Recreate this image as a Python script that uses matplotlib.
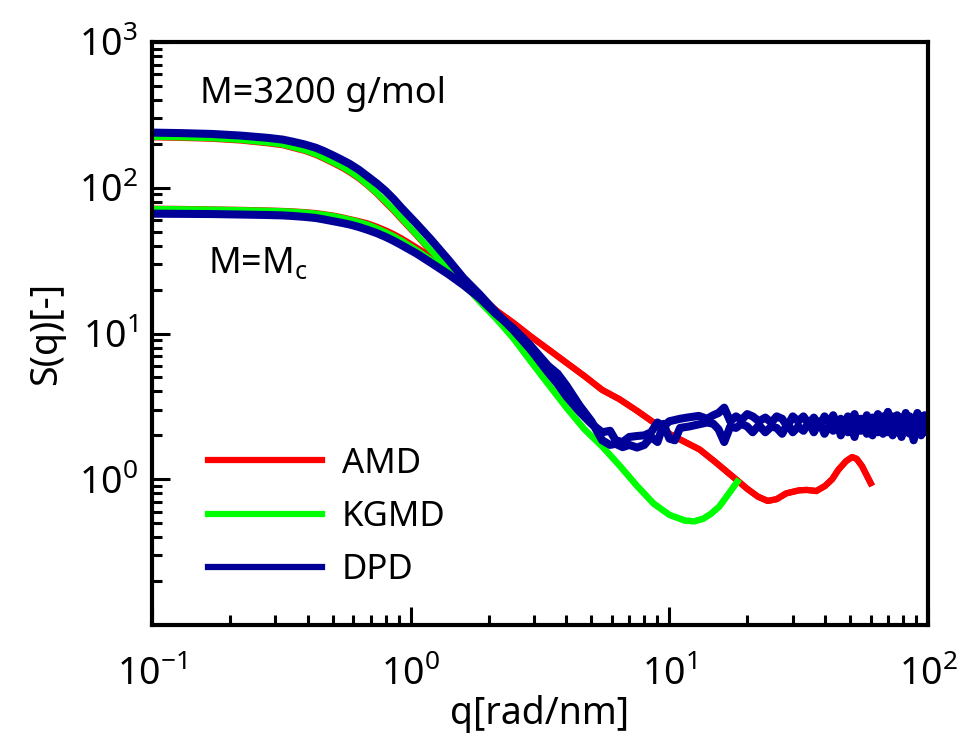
import matplotlib
matplotlib.use("Agg")
import matplotlib.pyplot as plt
from matplotlib.lines import Line2D
from matplotlib.ticker import FixedLocator, LogLocator

plt.rcParams['font.family'] = ['Noto Sans', 'DejaVu Sans']
plt.rcParams['mathtext.fontset'] = 'custom'
plt.rcParams['mathtext.rm'] = 'Noto Sans'

# --- data (q in rad/nm, S(q) dimensionless) ---
q_amd = [0.1, 0.13, 0.17, 0.22, 0.28, 0.32, 0.35, 0.39, 0.43, 0.46, 0.5, 0.54,
         0.58, 0.63, 0.68, 0.74, 0.8, 0.86, 0.92,
         1.05, 1.2, 1.4, 1.6, 1.85, 2.15, 2.5, 2.9, 3.4, 4.0, 4.7, 5.5, 6.4,
         7.5, 8.7, 10.0, 11.5, 13.1, 15.0, 17.5, 20.0, 22.0, 24.0, 26.0, 28.3,
         31.8, 34.0, 37.0, 40.0, 42.6, 45.0, 48.2, 50.9, 53.0, 55.6, 58.0, 60.8]
amd_tail = [14.3, 11.8, 9.6, 7.8, 6.3, 5.1, 4.1, 3.55, 2.95, 2.45, 2.05, 1.8,
            1.6, 1.32, 1.05, 0.86, 0.76, 0.71, 0.73, 0.8, 0.84, 0.845, 0.83,
            0.9, 1.0, 1.16, 1.33, 1.42, 1.38, 1.23, 1.06, 0.9]
amd_3200 = [222, 220, 217, 211, 202, 196, 188, 179, 168, 159, 148, 138,
            128, 116, 104, 91, 79, 69.5, 61,
            47.5, 36.5, 27.5, 22, 17.8] + amd_tail
amd_mc = [71.8, 71.5, 71, 70.5, 69.8, 69.3, 68.8, 68, 67, 65.9, 64.5, 62.8,
          61, 59, 57, 54, 51, 48, 45,
          39, 33.5, 27.5, 22.8, 18.2] + amd_tail

q_kgmd = [0.1, 0.13, 0.17, 0.22, 0.28, 0.32, 0.35, 0.39, 0.43, 0.46, 0.5, 0.54,
          0.58, 0.63, 0.68, 0.74, 0.8, 0.86, 0.92,
          1.05, 1.2, 1.4, 1.6, 1.85, 2.15, 2.5, 2.9, 3.4, 4.0, 4.7, 5.5, 6.4,
          7.5, 8.7, 10.0, 11.5, 12.5, 13.5, 14.5, 15.6, 17.0, 18.6]
kgmd_tail = [6.5, 4.5, 3.1, 2.2, 1.68, 1.25, 0.9, 0.68, 0.57, 0.52, 0.515,
             0.535, 0.58, 0.65, 0.8, 1.0]
kgmd_3200 = [224, 222, 219, 213, 204, 198, 190, 181, 170, 161, 150, 140,
             130, 117.5, 105, 92, 80.5, 70.5, 62,
             48, 37, 28, 22, 16.5, 12.5, 9.2] + kgmd_tail
kgmd_mc = [71.5, 71.2, 70.8, 70.2, 69.5, 69, 68.5, 67.6, 66.5, 65.4, 64, 62.3,
           60.5, 58.3, 56, 52.8, 49.5, 46.5, 43.5,
           37.5, 32, 26.5, 21.5, 17, 12.8, 9.3] + kgmd_tail

q_dpd = [0.1, 0.13, 0.17, 0.22, 0.28, 0.32, 0.35, 0.39, 0.43, 0.46, 0.5, 0.54,
         0.58, 0.63, 0.68, 0.74, 0.8, 0.86, 0.92,
         1.05, 1.2, 1.4, 1.6, 1.85, 2.15, 2.5, 2.9, 3.4, 3.7, 4.0, 4.5, 5.0,
         5.5, 5.9, 6.2, 6.6, 7.0, 7.5, 8.0, 8.5, 9.0, 9.5, 10.0, 10.5, 11.0,
         11.9, 13.0, 14.0, 14.8, 15.5, 16.3,
         17.2, 18.1, 19.0, 20.0, 21.0, 22.2, 23.5, 24.8, 26.0, 27.3, 28.6, 30.0,
         31.5, 33.0, 34.6, 36.2, 38.0, 39.8, 41.6, 43.0, 44.5, 46.0, 47.5, 49.0,
         50.5, 52.0, 53.5, 55.0, 56.5, 58.0, 59.5, 61.0, 62.5, 64.0, 65.5, 67.0,
         68.5, 70.0, 71.5, 73.0, 74.5, 76.0, 77.5, 79.0, 80.5, 82.0, 83.5, 85.0,
         86.5, 88.0, 89.5, 91.0, 92.5, 94.0, 95.5, 97.0, 98.5, 100.0]
dpd_3200 = [239, 237, 234, 228, 220, 214, 207, 198, 188, 179, 167, 156,
            146, 133, 120, 107, 95, 83.5, 73,
            57, 44, 32, 24, 18.5, 13.8, 10.5, 7.8, 5.4, 4.5, 3.7, 2.9, 2.4,
            2.1, 2.15, 1.85, 1.8, 1.95, 1.98, 2.0, 2.1, 2.45, 2.3, 2.5, 2.55, 2.6,
            2.66, 2.72, 2.6, 2.75, 2.85, 3.1,
            2.5, 2.7, 2.55, 2.8, 2.7, 2.5, 2.65, 2.45, 2.7, 2.6, 2.3, 2.7,
            2.5, 2.7, 2.4, 2.65, 2.3, 2.7, 2.45, 2.75, 2.35, 2.6, 2.25, 2.7,
            2.45, 2.8, 2.3, 2.6, 2.4, 2.75, 2.2, 2.65, 2.45, 2.8, 2.3, 2.7,
            2.5, 2.9, 2.35, 2.7, 2.2, 2.75, 2.5, 2.65, 2.25, 2.85, 2.4, 2.7,
            2.1, 2.6, 2.45, 2.85, 2.3, 2.7, 2.4, 2.75, 2.35, 2.55]
dpd_mc = [66.4, 66.2, 66, 65.5, 65, 64.6, 64, 63.1, 62, 60.7, 59, 57.5,
          56, 53.8, 51.5, 48.8, 46, 43.2, 40.5,
          35.5, 30.5, 25.5, 21.5, 17.5, 13.5, 10.8, 8.3, 6.0, 5.3, 4.4, 3.2, 2.5,
          1.85, 1.72, 1.75, 1.66, 1.72, 1.65, 1.72, 1.95, 1.8, 2.4, 1.9, 1.85, 2.25,
          2.3, 2.38, 2.45, 2.4, 2.2, 1.8,
          2.3, 2.25, 2.4, 2.3, 2.1, 2.35, 2.1, 2.3, 2.25, 2.05, 2.4, 2.1,
          2.3, 2.15, 2.45, 2.1, 2.5, 2.05, 2.35, 2.15, 2.55, 2.0, 2.4, 2.1,
          2.3, 1.95, 2.45, 2.15, 2.6, 2.05, 2.4, 2.0, 2.3, 2.1, 2.55, 2.05,
          2.35, 2.1, 2.6, 2.0, 2.45, 2.1, 2.3, 1.95, 2.6, 2.1, 2.5, 2.05,
          2.45, 1.85, 2.4, 2.1, 2.6, 2.0, 2.5, 2.1, 2.55, 2.3]

labels = ['AMD', 'KGMD', 'DPD']
colors = ['#ff0000', '#00ff00', '#000099']

fig = plt.figure(figsize=(9.6, 7.38), dpi=100)
ax = fig.add_axes([152 / 960, 1 - 625 / 738, 776 / 960, 583 / 738])

ax.plot(q_amd, amd_3200, color=colors[0], lw=4.5, solid_capstyle='butt')
ax.plot(q_amd, amd_mc, color=colors[0], lw=4.5, solid_capstyle='butt')
ax.plot(q_kgmd, kgmd_3200, color=colors[1], lw=4.5, solid_capstyle='butt')
ax.plot(q_kgmd, kgmd_mc, color=colors[1], lw=4.5, solid_capstyle='butt')
ax.plot(q_dpd, dpd_3200, color=colors[2], lw=5.8, solid_joinstyle='round')
ax.plot(q_dpd, dpd_mc, color=colors[2], lw=5.8, solid_joinstyle='round')

ax.set_xscale('log')
ax.set_yscale('log')
ax.set_xlim(0.1, 100)
ax.set_ylim(0.1, 1000)
ax.yaxis.set_major_locator(FixedLocator([1, 10, 100, 1000]))
ax.yaxis.set_minor_locator(LogLocator(base=10, subs=range(2, 10)))

for s in ax.spines.values():
    s.set_linewidth(3)
ax.tick_params(which='both', direction='in', top=False, right=False,
               width=2.2, labelsize=27)
ax.tick_params(which='major', length=13)
ax.tick_params(which='minor', length=7)
ax.tick_params(axis='y', which='major', pad=10)
ax.tick_params(axis='x', which='major', pad=22)

ax.set_xlabel('q[rad/nm]', fontsize=27, labelpad=1)
ax.set_ylabel('S(q)[-]', fontsize=27, labelpad=10)

ax.text(0.062, 0.91, 'M=3200 g/mol', transform=ax.transAxes, fontsize=26,
        va='center', ha='left')
ax.text(0.072, 0.62, r'M=M$_{\mathdefault{c}}$', transform=ax.transAxes,
        fontsize=26, va='center', ha='left')

handles = [Line2D([], [], color=c, lw=4.5) for c in colors]
ax.legend(handles, labels, loc='upper left', bbox_to_anchor=(0.072, 0.306),
          frameon=False, borderpad=0, borderaxespad=0, handlelength=3.3,
          handletextpad=0.55, labelspacing=0.55, fontsize=25)

fig.savefig('out.png', dpi=100, facecolor='white')
